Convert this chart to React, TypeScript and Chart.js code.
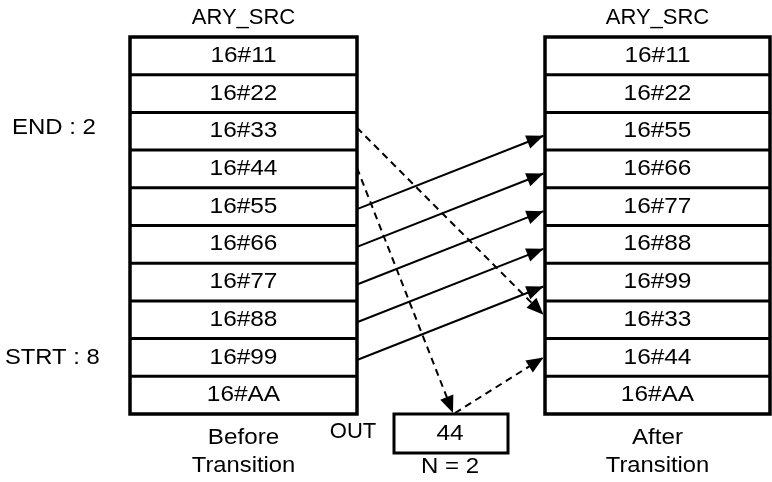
import React, { useEffect, useRef } from "react";
import { Chart, registerables } from "chart.js";

Chart.register(...registerables);

// ---- data ----
const arrayName = "ARY_SRC";
const beforeValues = ["16#11", "16#22", "16#33", "16#44", "16#55", "16#66", "16#77", "16#88", "16#99", "16#AA"];
const afterValues = ["16#11", "16#22", "16#55", "16#66", "16#77", "16#88", "16#99", "16#33", "16#44", "16#AA"];
const shiftFrom = [4, 5, 6, 7, 8];
const shiftTo = [2, 3, 4, 5, 6];
const endIndex = 2;
const strtIndex = 8;
const nValue = 2;
const outValue = "44";
const rotatedFrom = 2; // 16#33 -> after row 7
const rotatedTo = 7;
const outFrom = 3; // 16#44 -> OUT -> after row 8
const outTo = 8;
const beforeCaption = ["Before", "Transition"];
const afterCaption = ["After", "Transition"];

// ---- layout ----
const W = 772;
const H = 482;
const TOP = 37;
const ROW_H = 37.7;
const L0 = 130, L1 = 357;
const R0 = 545, R1 = 770;
const OUT_X0 = 394, OUT_X1 = 508, OUT_Y0 = 414, OUT_Y1 = 453;
const FONT = '22px "Liberation Sans", Arial, sans-serif';

const rowTop = (i: number) => TOP + i * ROW_H;
const rowMid = (i: number) => TOP + (i + 0.5) * ROW_H;

type Pt = { x: number; y: number };

function lineDs(points: Pt[], width: number, extra: any = {}) {
  return {
    data: points,
    showLine: true,
    borderColor: "#000",
    backgroundColor: "#000",
    borderWidth: width,
    pointRadius: 0,
    pointHoverRadius: 0,
    fill: false,
    tension: 0,
    ...extra,
  };
}

function rectDs(x0: number, y0: number, x1: number, y1: number, width: number) {
  return lineDs(
    [
      { x: x0, y: y0 },
      { x: x1, y: y0 },
      { x: x1, y: y1 },
      { x: x0, y: y1 },
      { x: x0, y: y0 },
    ],
    width,
    { borderJoinStyle: "miter", borderCapStyle: "square" }
  );
}

function buildDatasets() {
  const ds: any[] = [];
  const n = beforeValues.length;
  for (const [x0, x1] of [
    [L0, L1],
    [R0, R1],
  ]) {
    ds.push(rectDs(x0, rowTop(0), x1, rowTop(n), 3.5));
    for (let i = 1; i < n; i++) {
      ds.push(lineDs([{ x: x0, y: rowTop(i) }, { x: x1, y: rowTop(i) }], 3));
    }
  }
  ds.push(rectDs(OUT_X0, OUT_Y0, OUT_X1, OUT_Y1, 3));
  shiftFrom.forEach((f, k) => {
    ds.push(
      lineDs(
        [
          { x: L1, y: rowMid(f) + 2.5 },
          { x: R0 - 1.5, y: rowMid(shiftTo[k]) + 4.5 },
        ],
        2,
        { arrow: true }
      )
    );
  });
  ds.push(
    lineDs(
      [
        { x: L1, y: rowMid(rotatedFrom) - 3.5 },
        { x: R0 - 1.5, y: rowMid(rotatedTo) - 5 },
      ],
      2,
      { arrow: true, borderDash: [7, 5] }
    )
  );
  const outMidX = (OUT_X0 + OUT_X1) / 2;
  ds.push(
    lineDs(
      [
        { x: L1, y: rowMid(outFrom) - 1 },
        { x: outMidX + 2, y: OUT_Y0 - 1 },
      ],
      2,
      { arrow: true, borderDash: [7, 5] }
    )
  );
  ds.push(
    lineDs(
      [
        { x: outMidX + 4, y: OUT_Y0 - 1 },
        { x: R0 - 1.5, y: rowMid(outTo) },
      ],
      2,
      { arrow: true, borderDash: [7, 5] }
    )
  );
  return ds;
}

const arrowPlugin = {
  id: "arrowHeads",
  afterDatasetsDraw(chart: any) {
    const ctx = chart.ctx;
    chart.data.datasets.forEach((d: any, i: number) => {
      if (!d.arrow) return;
      const pts = chart.getDatasetMeta(i).data;
      const a = pts[pts.length - 2];
      const b = pts[pts.length - 1];
      const ang = Math.atan2(b.y - a.y, b.x - a.x);
      const len = 17;
      const half = 7;
      ctx.save();
      ctx.translate(b.x, b.y);
      ctx.rotate(ang);
      ctx.beginPath();
      ctx.moveTo(0, 0);
      ctx.lineTo(-len, -half);
      ctx.lineTo(-len, half);
      ctx.closePath();
      ctx.fillStyle = "#000";
      ctx.fill();
      ctx.restore();
    });
  },
};

const textPlugin = {
  id: "diagramText",
  afterDraw(chart: any) {
    const ctx = chart.ctx;
    const sx = chart.scales.x;
    const sy = chart.scales.y;
    const put = (t: string, x: number, y: number, stretch = 1, align: CanvasTextAlign = "center") => {
      ctx.save();
      ctx.translate(sx.getPixelForValue(x), sy.getPixelForValue(y));
      ctx.scale(stretch, 1);
      ctx.textAlign = align;
      ctx.fillText(t, 0, 0);
      ctx.restore();
    };
    ctx.save();
    ctx.font = FONT;
    ctx.fillStyle = "#000";
    ctx.textBaseline = "middle";
    const lc = (L0 + L1) / 2;
    const rc = (R0 + R1) / 2;
    put(arrayName, lc, 18, 1);
    put(arrayName, rc, 18, 1);
    beforeValues.forEach((v, i) => put(v, lc, rowMid(i), 1.11));
    afterValues.forEach((v, i) => put(v, rc, rowMid(i), 1.11));
    put(`END : ${endIndex}`, 12, rowMid(endIndex) - 3, 1.09, "left");
    put(`STRT : ${strtIndex}`, 5, rowMid(strtIndex), 1.08, "left");
    put(beforeCaption[0], lc, 438, 1.1);
    put(beforeCaption[1], lc, 466, 1.08);
    put(afterCaption[0], rc, 438, 1.1);
    put(afterCaption[1], rc, 466, 1.08);
    put("OUT", 353, 432, 1);
    const oc = (OUT_X0 + OUT_X1) / 2;
    put(outValue, oc - 1, (OUT_Y0 + OUT_Y1) / 2, 1.11);
    put(`N = ${nValue}`, oc - 1, 467, 1.09);
    ctx.restore();
  },
};

export default function App() {
  const ref = useRef<HTMLCanvasElement | null>(null);
  useEffect(() => {
    if (!ref.current) return;
    const chart = new Chart(ref.current, {
      type: "scatter",
      data: { datasets: buildDatasets() },
      options: {
        animation: false,
        responsive: false,
        maintainAspectRatio: false,
        layout: { padding: 0 },
        events: [],
        plugins: { legend: { display: false }, tooltip: { enabled: false } },
        scales: {
          x: { type: "linear", min: 0, max: W, display: false },
          y: { type: "linear", min: 0, max: H, reverse: true, display: false },
        },
      },
      plugins: [arrowPlugin, textPlugin],
    });
    return () => chart.destroy();
  }, []);
  return (
    <div style={{ position: "absolute", left: 0, top: 0, width: W, height: H, background: "#fff" }}>
      <canvas ref={ref} width={W} height={H} style={{ display: "block", width: W, height: H }} />
    </div>
  );
}
